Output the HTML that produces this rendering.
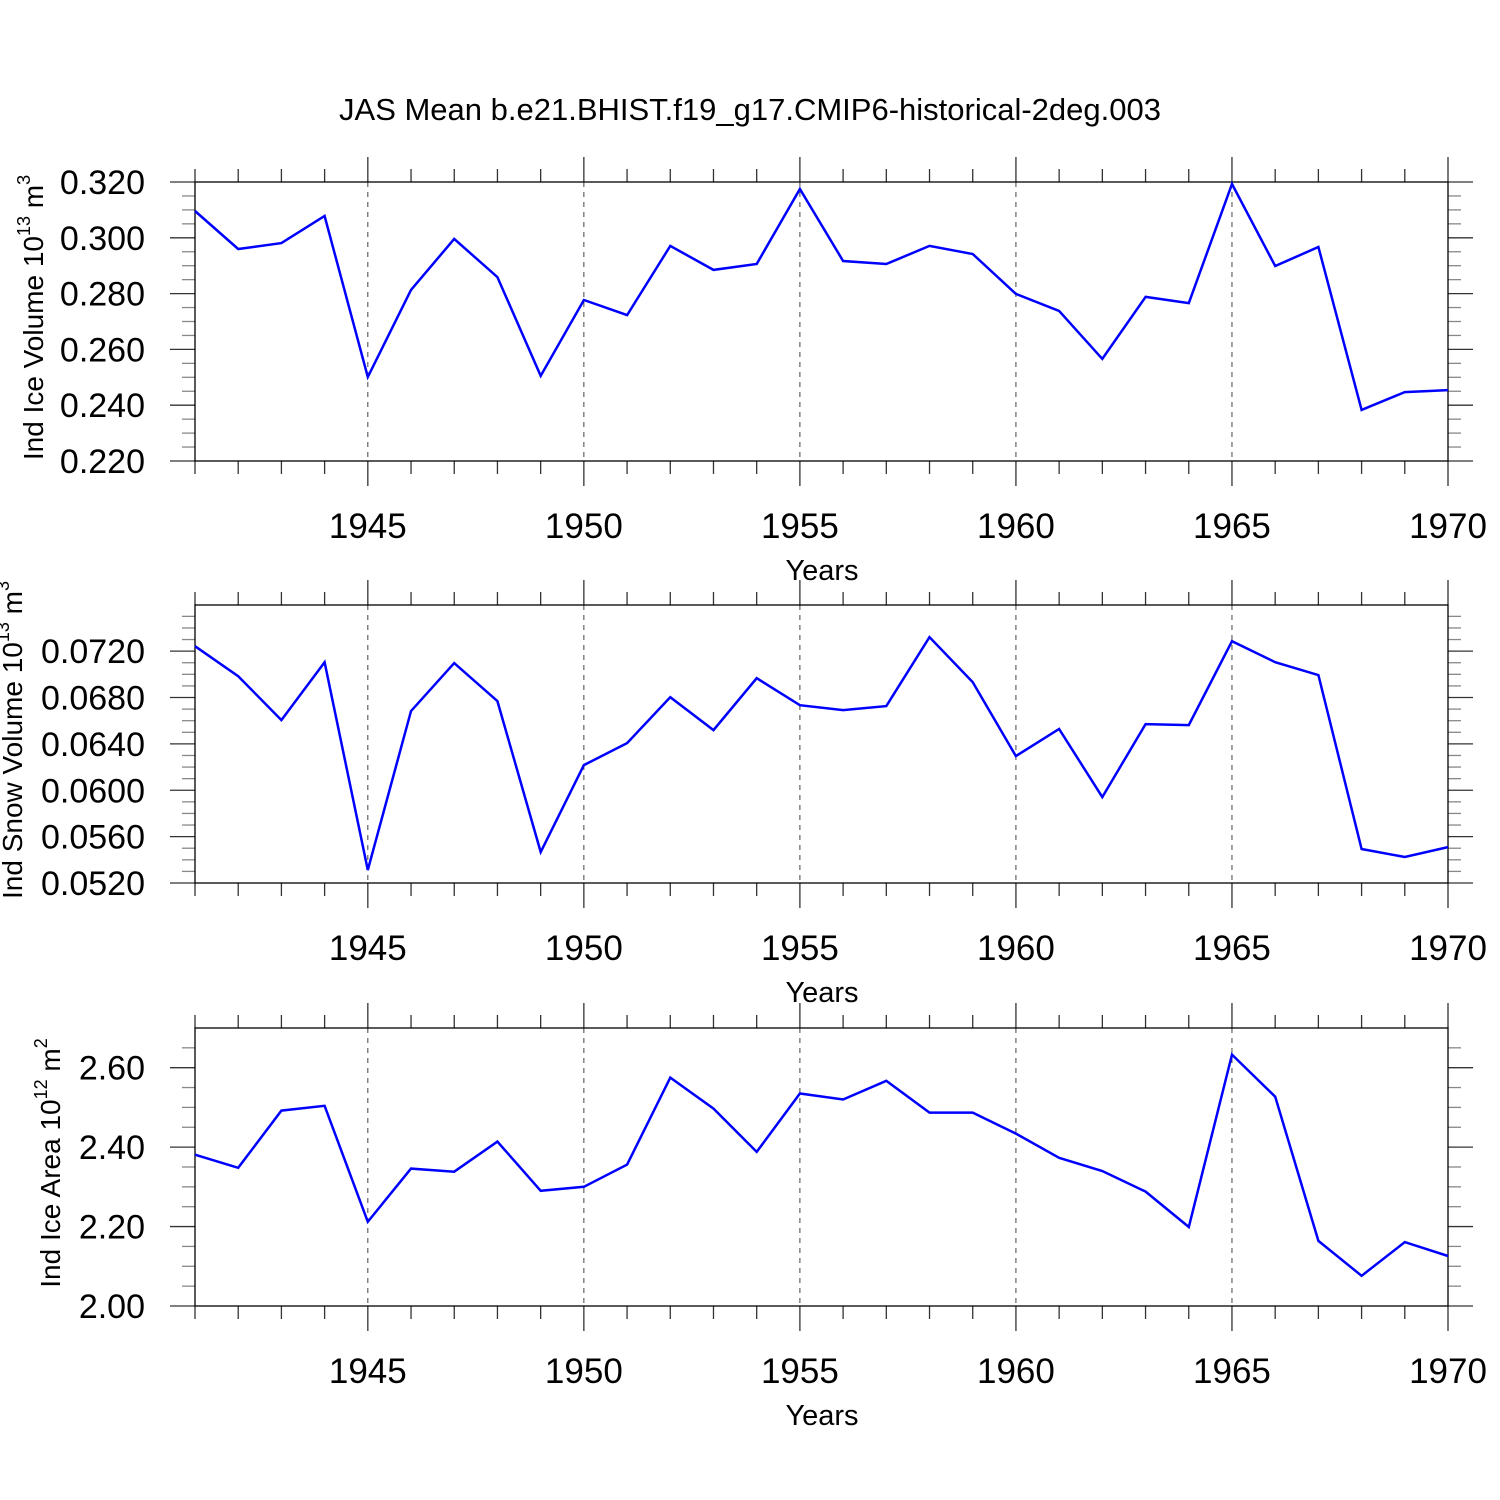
<!DOCTYPE html>
<html>
<head>
<meta charset="utf-8">
<style>
html,body{margin:0;padding:0;background:#fff;}
svg{display:block;font-family:"Liberation Sans",sans-serif;}
</style>
</head>
<body>
<svg id="chart" width="1500" height="1500" viewBox="0 0 1500 1500" xmlns="http://www.w3.org/2000/svg">
<rect x="0" y="0" width="1500" height="1500" fill="#fff"/>
<text x="750" y="120" font-size="31" text-anchor="middle">JAS Mean b.e21.BHIST.f19_g17.CMIP6-historical-2deg.003</text>
</svg>
<script>
const years = [1941,1942,1943,1944,1945,1946,1947,1948,1949,1950,1951,1952,1953,1954,1955,1956,1957,1958,1959,1960,1961,1962,1963,1964,1965,1966,1967,1968,1969,1970];
const iceVolume = [0.3096,0.2960,0.2981,0.3078,0.2501,0.2813,0.2996,0.2859,0.2505,0.2777,0.2723,0.2971,0.2885,0.2906,0.3175,0.2917,0.2906,0.2971,0.2942,0.2799,0.2738,0.2566,0.2788,0.2766,0.3193,0.2899,0.2967,0.2383,0.2447,0.2454];
const snowVolume = [0.07243,0.06984,0.06605,0.07105,0.05312,0.06683,0.07097,0.06769,0.05467,0.06217,0.06407,0.06803,0.06519,0.06967,0.06734,0.06691,0.06726,0.07321,0.06933,0.06295,0.06528,0.05941,0.06571,0.06562,0.07286,0.07105,0.06993,0.05493,0.05424,0.05510];
const iceArea = [2.381,2.348,2.492,2.504,2.212,2.346,2.338,2.414,2.290,2.300,2.356,2.575,2.497,2.388,2.535,2.520,2.567,2.487,2.487,2.434,2.373,2.340,2.288,2.199,2.633,2.527,2.164,2.076,2.161,2.126];
const xTickLabels = [1945,1950,1955,1960,1965,1970];
const iceVolTicks = ["0.220","0.240","0.260","0.280","0.300","0.320"];
const snowVolTicks = ["0.0520","0.0560","0.0600","0.0640","0.0680","0.0720"];
const iceAreaTicks = ["2.00","2.20","2.40","2.60"];

const NS = "http://www.w3.org/2000/svg";
const svg = document.getElementById('chart');
const X0 = 195, X1 = 1448, YR0 = 1941, YR1 = 1970;
function xScale(yr){ return X0 + (yr - YR0) / (YR1 - YR0) * (X1 - X0); }
function mk(tag, attrs, parent){
  const e = document.createElementNS(NS, tag);
  for (const k in attrs) e.setAttribute(k, attrs[k]);
  (parent || svg).appendChild(e);
  return e;
}

const panels = [
  {key:'ice-volume', top:182, bot:461, yMin:0.22, yMax:0.32, major:0.02, minor:0.005, data:iceVolume, ticks:iceVolTicks, title:['Ind Ice Volume 10','13',' m','3'], tx:33},
  {key:'snow-volume', top:605, bot:883, yMin:0.052, yMax:0.07598, major:0.004, minor:0.001, data:snowVolume, ticks:snowVolTicks, title:['Ind Snow Volume 10','13',' m','3'], tx:12},
  {key:'ice-area', top:1028, bot:1306, yMin:2.0, yMax:2.6999, major:0.2, minor:0.05, data:iceArea, ticks:iceAreaTicks, title:['Ind Ice Area 10','12',' m','2'], tx:50}
];

panels.forEach(p => {
  const g = mk('g', {});
  
  
  const yS = v => p.bot - (v - p.yMin) / (p.yMax - p.yMin) * (p.bot - p.top);

  xTickLabels.forEach(yr => {
    if (yr >= YR1) return;
    const gl = mk('line', {x1:xScale(yr), x2:xScale(yr), y1:p.top, y2:p.bot, stroke:'#444', 'stroke-width':1, 'stroke-dasharray':'5,5'}, g);
    
    
  });

  for (let yr = YR0; yr <= YR1; yr++) {
    const maj = yr % 5 === 0;
    const len = maj ? 25 : 13;
    const x = xScale(yr);
    mk('line', {x1:x, x2:x, y1:p.top, y2:p.top - len, stroke:'#333', 'stroke-width':1.3}, g);
    mk('line', {x1:x, x2:x, y1:p.bot, y2:p.bot + len, stroke:'#333', 'stroke-width':1.3}, g);
  }
  const nMin = Math.round((p.yMax - p.yMin) / p.minor + 0.001);
  const per = Math.round(p.major / p.minor);
  for (let i = 0; i <= nMin; i++) {
    const v = p.yMin + i * p.minor;
    if (v > p.yMax + 1e-9) break;
    const y = yS(v);
    const maj = i % per === 0;
    const len = maj ? 25 : 13;
    const col = maj ? '#333' : '#888';
    mk('line', {x1:X0, x2:X0 - len, y1:y, y2:y, stroke:col, 'stroke-width':1.3}, g);
    mk('line', {x1:X1, x2:X1 + len, y1:y, y2:y, stroke:col, 'stroke-width':1.3}, g);
  }
  const box = mk('rect', {x:X0, y:p.top, width:X1 - X0, height:p.bot - p.top, fill:'none', stroke:'#000', 'stroke-width':1.3}, g);
  
  

  p.ticks.forEach(t => {
    const tl = mk('text', {x:145, y:yS(parseFloat(t)) + 12, 'font-size':34, 'text-anchor':'end'}, g);
    tl.textContent = t;
    
    
  });
  xTickLabels.forEach(yr => {
    const tl = mk('text', {x:xScale(yr), y:p.bot + 77, 'font-size':35, 'text-anchor':'middle'}, g);
    tl.textContent = yr;
    
    
  });
  const xt = mk('text', {x:822, y:p.bot + 119, 'font-size':29, 'text-anchor':'middle'}, g);
  xt.textContent = 'Years';
  
  
  const cy = (p.top + p.bot) / 2 - 4;
  const yt = mk('text', {x:0, y:0, 'font-size':28, 'text-anchor':'middle', transform:'translate(' + (p.tx + 10) + ',' + cy + ') rotate(-90)'}, g);
  
  
  const s1 = mk('tspan', {}, yt); s1.textContent = p.title[0];
  const s2 = mk('tspan', {dy:-13, 'font-size':18}, yt); s2.textContent = p.title[1];
  const s3 = mk('tspan', {dy:13}, yt); s3.textContent = p.title[2];
  const s4 = mk('tspan', {dy:-13, 'font-size':18}, yt); s4.textContent = p.title[3];

  const pts = p.data.map((v, i) => xScale(years[i]).toFixed(1) + ',' + yS(v).toFixed(1)).join(' ');
  const line = mk('polyline', {points:pts, fill:'none', stroke:'#0000ff', 'stroke-width':2.5, 'stroke-linejoin':'miter'}, g);
  
  
});
</script>
</body>
</html>
